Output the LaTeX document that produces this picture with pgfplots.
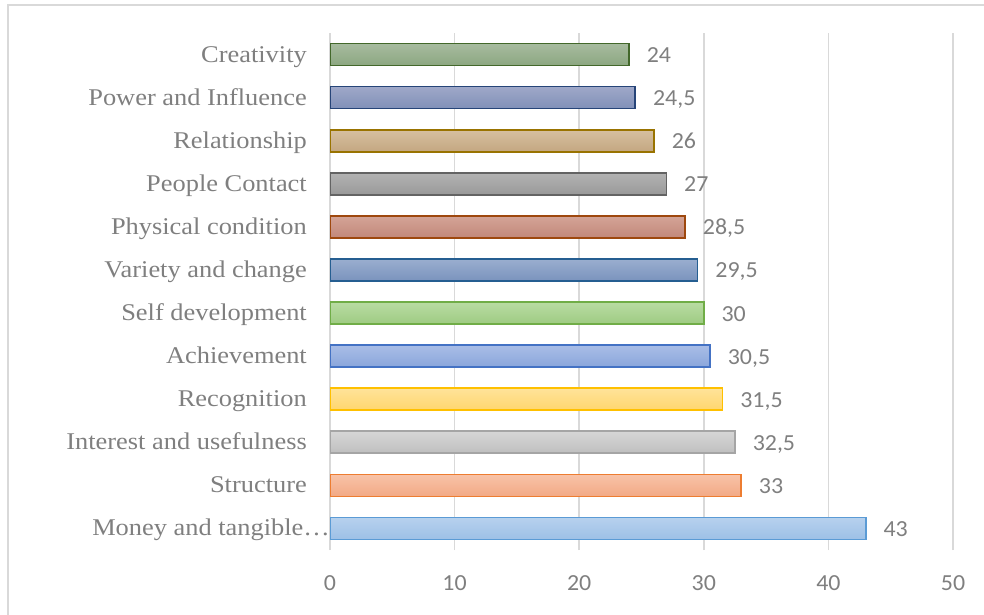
\documentclass[border=0pt]{standalone}
\usepackage{pgfplots}
\pgfplotsset{compat=1.18}
\usepackage{fontspec}
\setmainfont[FakeStretch=1.1]{Liberation Serif}
\newfontfamily\calibri[FakeStretch=1.04]{Carlito}

\definecolor{txt}{HTML}{7F7F7F}
\definecolor{gridc}{HTML}{D9D9D9}
% border / top / bottom of each bar's gradient
\definecolor{mnyD}{HTML}{5B9BD5}\definecolor{mnyT}{HTML}{B7D1EE}\definecolor{mnyB}{HTML}{9DC0E6}
\definecolor{strD}{HTML}{ED7D31}\definecolor{strT}{HTML}{F8C3A8}\definecolor{strB}{HTML}{F2A985}
\definecolor{intD}{HTML}{A5A5A5}\definecolor{intT}{HTML}{D6D6D6}\definecolor{intB}{HTML}{BFBFBF}
\definecolor{recD}{HTML}{FFC000}\definecolor{recT}{HTML}{FFE39A}\definecolor{recB}{HTML}{FFD66E}
\definecolor{achD}{HTML}{4472C4}\definecolor{achT}{HTML}{A9BDE6}\definecolor{achB}{HTML}{8AA6DB}
\definecolor{sdvD}{HTML}{70AD47}\definecolor{sdvT}{HTML}{B9DCA3}\definecolor{sdvB}{HTML}{9ECB82}
\definecolor{varD}{HTML}{255E91}\definecolor{varT}{HTML}{9AAECF}\definecolor{varB}{HTML}{7A93BD}
\definecolor{phyD}{HTML}{9E480E}\definecolor{phyT}{HTML}{D4A497}\definecolor{phyB}{HTML}{C2887A}
\definecolor{pplD}{HTML}{636363}\definecolor{pplT}{HTML}{B3B3B3}\definecolor{pplB}{HTML}{999999}
\definecolor{relD}{HTML}{997300}\definecolor{relT}{HTML}{D6C0A0}\definecolor{relB}{HTML}{C4A781}
\definecolor{powD}{HTML}{264478}\definecolor{powT}{HTML}{9FA8C8}\definecolor{powB}{HTML}{8090B8}
\definecolor{creD}{HTML}{43682B}\definecolor{creT}{HTML}{A7BB9F}\definecolor{creB}{HTML}{8CA781}

% one bar per category, all on the same row slot
\pgfplotsset{
  onebar/.style={xbar, bar shift=0pt, bar width=22pt, line width=1.6pt,
    draw=#1D, top color=#1T, bottom color=#1B,
    nodes near coords,
    nodes near coords style={font=\calibri\fontsize{23}{26}\selectfont, text=txt,
      anchor=base west, inner sep=0pt, xshift=17pt, yshift=-8pt,
      /pgf/number format/use comma, /pgf/number format/assume math mode=true}},
}

\begin{document}
\begin{tikzpicture}
\begin{axis}[
    at={(330pt,64pt)}, anchor=south west,
    scale only axis,
    width=623pt, height=517pt,
    xmin=0, xmax=50,
    ymin=-0.5, ymax=11.5,
    xtick={0,10,...,50},
    ytick={0,...,11},
    yticklabels={Money and tangible…\hspace*{-23pt}, Structure, Interest and usefulness, Recognition,
      Achievement, Self development, Variety and change, Physical condition,
      People Contact, Relationship, Power and Influence, Creativity},
    axis line style={draw=none},
    major tick length=0pt,
    xmajorgrids, ymajorgrids=false,
    major grid style={draw=gridc, line width=1.5pt},
    ticklabel style={text=txt},
    xticklabel style={font=\calibri\fontsize{23}{26}\selectfont, inner sep=0pt, anchor=north,
      /pgf/number format/assume math mode=true},
    xticklabel shift=25pt,
    yticklabel style={font=\fontsize{24}{28}\selectfont, inner sep=0pt, anchor=base east, yshift=-7.5pt},
    yticklabel shift=23pt,
]
\addplot[onebar=mny] coordinates {(43,0)};
\addplot[onebar=str] coordinates {(33,1)};
\addplot[onebar=int] coordinates {(32.5,2)};
\addplot[onebar=rec] coordinates {(31.5,3)};
\addplot[onebar=ach] coordinates {(30.5,4)};
\addplot[onebar=sdv] coordinates {(30,5)};
\addplot[onebar=var] coordinates {(29.5,6)};
\addplot[onebar=phy] coordinates {(28.5,7)};
\addplot[onebar=ppl] coordinates {(27,8)};
\addplot[onebar=rel] coordinates {(26,9)};
\addplot[onebar=pow] coordinates {(24.5,10)};
\addplot[onebar=cre] coordinates {(24,11)};
\end{axis}
% chart area frame (only its top and left edges fall inside the image)
\draw[gridc, line width=2pt] (8pt,-20pt) -- (8pt,609pt) -- (1010pt,609pt);
\pgfresetboundingbox
\useasboundingbox (0,0) rectangle (984pt,614pt);
\end{tikzpicture}
\end{document}
